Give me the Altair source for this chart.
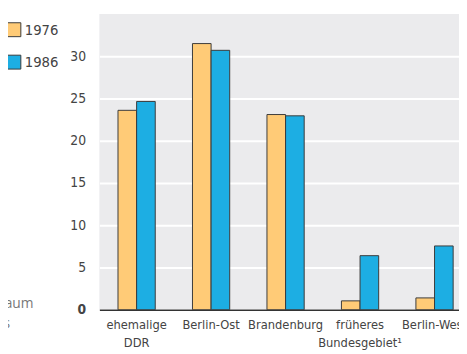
import altair as alt
import pandas as pd

categories = ["ehemalige|DDR", "Berlin-Ost", "Brandenburg", "früheres|Bundesgebiet¹", "Berlin-West"]
years = ["1976", "1986"]
v1976 = [23.6, 31.5, 23.1, 1.05, 1.4]
v1986 = [24.65, 30.7, 22.95, 6.4, 7.55]
y_ticks = [0, 5, 10, 15, 20, 25, 30]
side_text = ["raum", "is"]

rows = []
for c, a, b in zip(categories, v1976, v1986):
    rows.append({"cat": c, "year": "1976", "val": a})
    rows.append({"cat": c, "year": "1986", "val": b})
df = pd.DataFrame(rows)

FONT = "DejaVu Sans Condensed, sans-serif"

bars = alt.Chart(df).mark_bar(stroke="#3a3a3a", strokeWidth=1).encode(
    x=alt.X("cat:N", sort=categories, title=None,
            scale=alt.Scale(range=[0, 379], paddingInner=0.5, paddingOuter=0.25),
            axis=alt.Axis(labelAngle=0, ticks=False, domain=True, domainColor="#333333",
                          domainWidth=1.5, labelPadding=9, labelFontSize=13,
                          labelColor="#444444", labelLineHeight=18, labelFont=FONT,
                          labelExpr="split(datum.label, '|')", grid=False)),
    xOffset=alt.XOffset("year:N", sort=years, scale=alt.Scale(paddingInner=0)),
    y=alt.Y("val:Q", title=None, scale=alt.Scale(domain=[0, 35], nice=False),
            axis=alt.Axis(values=y_ticks, ticks=False, domain=False, labelPadding=14,
                          labelFontSize=14, labelColor="#444444", labelFont=FONT,
                          labelFontWeight=alt.ExprRef("datum.value == 0 ? 'bold' : 'normal'"),
                          grid=True, gridColor="white", gridWidth=2)),
    color=alt.Color("year:N", sort=years,
                    scale=alt.Scale(domain=years, range=["#FFCB77", "#1DAEE3"]),
                    legend=alt.Legend(title=None, orient="none", legendX=-95, legendY=8,
                                      symbolType="square", symbolSize=200,
                                      symbolStrokeColor="#3a3a3a", symbolStrokeWidth=1,
                                      labelFontSize=15, labelFont=FONT, labelColor="#444444",
                                      rowPadding=13, labelOffset=3)),
)

side = pd.DataFrame({"t": side_text, "yy": [295, 316], "xx": [-67, -91]})
side_layer = alt.Chart(side).mark_text(align="right", baseline="middle", fontSize=14,
                                       color="#777777", font="Open Sans").encode(
    x=alt.X("xx:Q", scale=None), y=alt.Y("yy:Q", scale=None), text="t:N")

chart = alt.layer(bars, side_layer).properties(
    width=366, height=301,
    autosize=alt.AutoSizeParams(type="none"),
    padding={"left": 93, "top": 3, "right": 0, "bottom": 45},
).configure_view(fill="#EBEBED", stroke=None)

chart.save("out.html", embed_options={"renderer": "svg", "actions": False})
